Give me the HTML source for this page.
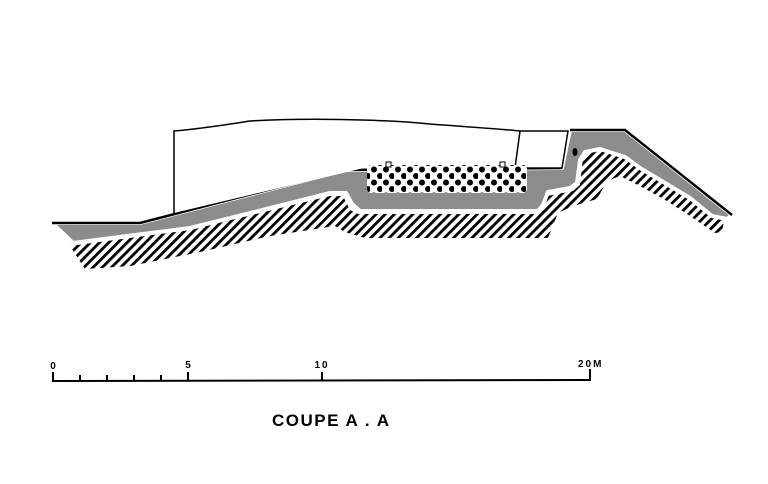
<!DOCTYPE html>
<html><head><meta charset="utf-8"><style>html,body{margin:0;padding:0;background:#fff}svg{display:block}</style></head>
<body>
<svg width="768" height="484" viewBox="0 0 768 484" xmlns="http://www.w3.org/2000/svg">
<defs>
<pattern id="h" patternUnits="userSpaceOnUse" width="6.5" height="6.5" patternTransform="rotate(45)">
<rect x="0" y="0" width="2.8" height="6.5" fill="#000"/>
</pattern>
<pattern id="d" patternUnits="userSpaceOnUse" x="370" y="166" width="12" height="13">
<circle cx="4" cy="3.5" r="3" fill="#000"/>
<circle cx="10" cy="10" r="3" fill="#000"/>
</pattern>
</defs>
<!-- hatch -->
<path d="M70,246 L190,230 L330,196 L343,196 L350,210 L358,214 L540,214 L547,196 L573,191 L580,185 L583,158 L590,151 L602,151 L624,159 L642,171 L692,201 L724,221 L722,232 L715,233 L690,216 L667,201 L640,186 L620,176 L607,181 L597,199 L573,206 L558,213 L548,238 L365,238 L345,232 L335,226 L270,236 L200,252 L130,266 L85,269 Z" fill="url(#h)"/>
<!-- gray -->
<path d="M52,223 L140,223 L345,170 L562,168 L570,130 L625,130 L732,215 L727,219 L712,216 L690,198 L640,168 L625,157 L600,149 L585,152 L580,160 L577,183 L570,188 L548,192 L543,205 L538,211 L360,211 L352,204 L346,193 L330,193 L190,228 L73,243 Z" fill="#8c8c8c" stroke="#fff" stroke-width="4" stroke-linejoin="round"/>
<path d="M52,223 L140,223 L345,170 L562,168 M570,130 L625,130 L732,215" fill="none" stroke="#000" stroke-width="2.5"/>
<!-- upper outline -->
<path d="M174,213 L174,131 C200,129 230,124 250,121 C300,118 380,119 430,124 C470,127 500,129 520,131 L568,131 L562,168 L515,168 L520,131" fill="#fff" stroke="#000" stroke-width="1.5"/>
<ellipse cx="575" cy="152" rx="2.5" ry="4" fill="#000"/>
<!-- dots -->
<rect x="367" y="165" width="160" height="28" rx="4" fill="#fff"/>
<rect x="367" y="165" width="160" height="28" rx="4" fill="url(#d)"/>
<rect x="386" y="162" width="5" height="5" fill="#fff" stroke="#000" stroke-width="1"/>
<rect x="500" y="162" width="5" height="5" fill="#fff" stroke="#000" stroke-width="1"/>
<!-- scale -->
<g stroke="#000" stroke-width="2">
<line x1="53" y1="381" x2="590" y2="380"/>
<line x1="53" y1="372" x2="53" y2="382"/>
<line x1="80" y1="375" x2="80" y2="381"/>
<line x1="107" y1="375" x2="107" y2="381"/>
<line x1="134" y1="375" x2="134" y2="381"/>
<line x1="161" y1="375" x2="161" y2="381"/>
<line x1="188" y1="372" x2="188" y2="381"/>
<line x1="322" y1="372" x2="322" y2="381"/>
<line x1="590" y1="369" x2="590" y2="381"/>
</g>
<g font-family="Liberation Sans, sans-serif" font-weight="bold" font-size="10" fill="#000">
<text x="53" y="369" text-anchor="middle">0</text>
<text x="188" y="368" text-anchor="middle">5</text>
<text x="322" y="368" text-anchor="middle" letter-spacing="2">10</text>
<text x="578" y="367" letter-spacing="2">20M</text>
</g>
<text x="272" y="426" font-family="Liberation Sans, sans-serif" font-weight="bold" font-size="17" letter-spacing="1.5" fill="#000">COUPE  A . A</text>
</svg>
</body></html>
